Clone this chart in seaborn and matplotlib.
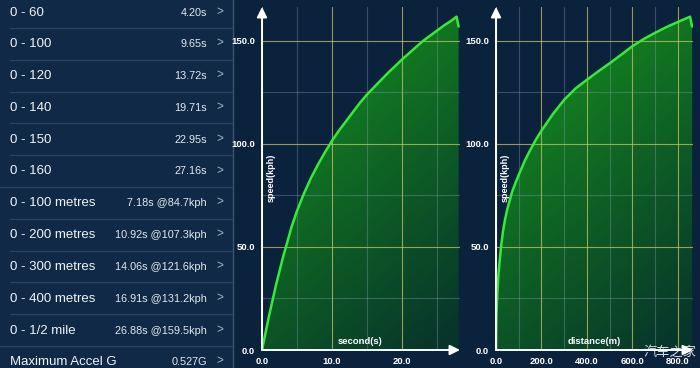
"""Acceleration test screen: result list plus speed/time and speed/distance charts."""
import matplotlib
matplotlib.use("Agg")
import matplotlib.pyplot as plt
import numpy as np
import pandas as pd
import seaborn as sns
from matplotlib.patches import Polygon

# ---- data -----------------------------------------------------------------
ROW_LABELS = ["0 - 60", "0 - 100", "0 - 120", "0 - 140", "0 - 150", "0 - 160",
              "0 - 100 metres", "0 - 200 metres", "0 - 300 metres",
              "0 - 400 metres", "0 - 1/2 mile", "Maximum Accel G"]
ROW_VALUES = ["4.20s", "9.65s", "13.72s", "19.71s", "22.95s", "27.16s",
              "7.18s @84.7kph", "10.92s @107.3kph", "14.06s @121.6kph",
              "16.91s @131.2kph", "26.88s @159.5kph", "0.527G"]

TIME_S = [0, 1, 2, 3, 4, 4.2, 5, 6, 7, 8, 9, 10, 11, 12, 13, 14, 14.5, 15,
          16, 17, 18, 19, 20, 21, 22, 23, 24, 25, 26, 27, 27.8, 28.1]
SPEED_T = [0, 16.5, 31.5, 45, 57, 59.5, 67.5, 76, 83.5, 90, 96, 101.5, 106.5,
           111, 115.5, 120, 122, 124, 127.5, 131, 134.5, 137.7, 141, 144, 147,
           150, 152.5, 155, 157.5, 159.7, 161.8, 157]

DIST_M = [0, 1, 2, 4, 7, 10, 15, 22, 30, 40, 50, 60, 70, 85, 100, 125, 150,
          175, 200, 250, 300, 350, 400, 450, 500, 550, 600, 650, 700, 750,
          805, 853, 862]
SPEED_D = [0, 11, 16, 23, 30, 35.5, 42, 50, 57, 63.5, 68.5, 72.5, 76.5, 81,
           85, 91.5, 97, 102, 106.5, 114.5, 121.5, 127, 131.2, 135.3, 139.2,
           143.3, 147.5, 151, 154, 156.8, 159.5, 161.8, 157]

SPEED_TICKS = [0, 50, 100, 150]
SPEED_MINOR = [25, 75, 125]
TIME_TICKS = [0, 10, 20]
TIME_MINOR = [5, 15, 25]
DIST_TICKS = [0, 200, 400, 600, 800]
DIST_MINOR = [100, 300, 500, 700]

# ---- style ----------------------------------------------------------------
W, H = 700, 368
BG = "#0b223d"
LIST_BG = "#102946"
FONT = ["Liberation Sans", "DejaVu Sans"]
CJK = ["Noto Sans CJK SC", "DejaVu Sans"]

sns.set_style("dark")
plt.rcParams["font.family"] = FONT

fig = plt.figure(figsize=(W / 100, H / 100), dpi=100, facecolor=BG)

# ---- left list panel ------------------------------------------------------
lst = fig.add_axes([0, 0, 1, 1], facecolor="none")
lst.set_xlim(0, W)
lst.set_ylim(H, 0)
lst.axis("off")
lst.fill_between([0, 232], 0, H, color=LIST_BG, zorder=0)
lst.plot([232.5, 232.5], [0, H], color="#3a5672", lw=1)

for i, (lab, val) in enumerate(zip(ROW_LABELS, ROW_VALUES)):
    yc = 12.5 + 31.8 * i
    lst.text(10, yc, lab, color="#f2f4f7", fontsize=9.5, va="center", ha="left")
    lst.text(207, yc, val, color="#e3e8ee", fontsize=7.8, va="center", ha="right")
    lst.text(216, yc - 1, ">", color="#a8b8ca", fontsize=8.5, va="center", ha="left")
    if i < len(ROW_LABELS) - 1:
        x0 = 0 if i in (5, 10) else 10
        lst.plot([x0, 232], [yc + 15.5, yc + 15.5], color="#2a4563", lw=0.9)


def speed_chart(left, right, x, y, xmax, xticks, xminor, xlabel, xlabel_px):
    bottom, top = 350, 7
    ymax = 166.5
    ax = fig.add_axes([left / W, (H - bottom) / H, (right - left) / W,
                       (bottom - top) / H], facecolor="none")

    # gradient fill clipped to the area under the curve
    gx, gy = np.meshgrid(np.linspace(0, 1, 200), np.linspace(0, 1, 200))
    t = np.clip(0.7 * gy + 0.35 * (1 - gx) - 0.05, 0, 1)[..., None]
    dark = np.array([0.03, 0.21, 0.17])
    bright = np.array([0.09, 0.60, 0.11])
    img = dark + (bright - dark) * t
    im = ax.imshow(img, extent=(0, xmax, 0, ymax), origin="lower",
                   aspect="auto", zorder=1)
    poly = Polygon(np.column_stack([list(x) + [x[-1], 0], list(y) + [0, 0]]),
                   closed=True, facecolor="none", edgecolor="none")
    ax.add_patch(poly)
    im.set_clip_path(poly)

    df = pd.DataFrame({"x": x, "y": y})
    sns.lineplot(data=df, x="x", y="y", ax=ax, color="#35ec35", lw=1.8,
                 estimator=None, sort=False, zorder=4)

    ax.set_xlim(0, xmax)
    ax.set_ylim(0, ymax)
    ax.set_xticks(xticks)
    ax.set_xticks(xminor, minor=True)
    ax.set_yticks(SPEED_TICKS)
    ax.set_yticks(SPEED_MINOR, minor=True)
    ax.set_xticklabels([f"{v:.1f}" for v in xticks])
    ax.set_yticklabels([f"{v:.1f}" for v in SPEED_TICKS])
    ax.set_axisbelow(False)
    ax.grid(which="major", color="#c9c25e", alpha=0.75, lw=0.8)
    ax.grid(which="minor", color="#8ea4bc", alpha=0.35, lw=0.8)
    ax.tick_params(which="major", length=3, width=1, color="white",
                   labelcolor="white", labelsize=6.8, pad=2)
    ax.tick_params(which="minor", length=0)
    for lbl in ax.get_xticklabels() + ax.get_yticklabels():
        lbl.set_fontweight("bold")
    for s in ax.spines.values():
        s.set_visible(False)
    ax.set_xlabel("")
    ax.set_ylabel("")

    arrow = dict(arrowstyle="-|>", color="white", lw=1.4, mutation_scale=15,
                 shrinkA=0, shrinkB=0)
    ax.annotate("", xy=(0, ymax), xytext=(0, 0), arrowprops=arrow,
                annotation_clip=False, zorder=6)
    ax.annotate("", xy=(xmax, 0), xytext=(0, 0), arrowprops=arrow,
                annotation_clip=False, zorder=6)

    fig.text((left + 9) / W, 1 - 178 / H, "speed(kph)", rotation=90,
             color="white", fontsize=6.5, fontweight="bold",
             ha="center", va="center")
    fig.text(xlabel_px / W, 1 - 342 / H, xlabel, color="white", fontsize=6.8,
             fontweight="bold", ha="center", va="center")
    return ax


speed_chart(262, 460, TIME_S, SPEED_T, 28.3, TIME_TICKS, TIME_MINOR,
            "second(s)", 360)
speed_chart(496, 693, DIST_M, SPEED_D, 866, DIST_TICKS, DIST_MINOR,
            "distance(m)", 594)

fig.text(670 / W, 1 - 352 / H, "汽车之家", family=CJK, color="white",
         alpha=0.85, fontsize=9.5, ha="center", va="center")

fig.savefig("out.png", dpi=100, facecolor=BG)
